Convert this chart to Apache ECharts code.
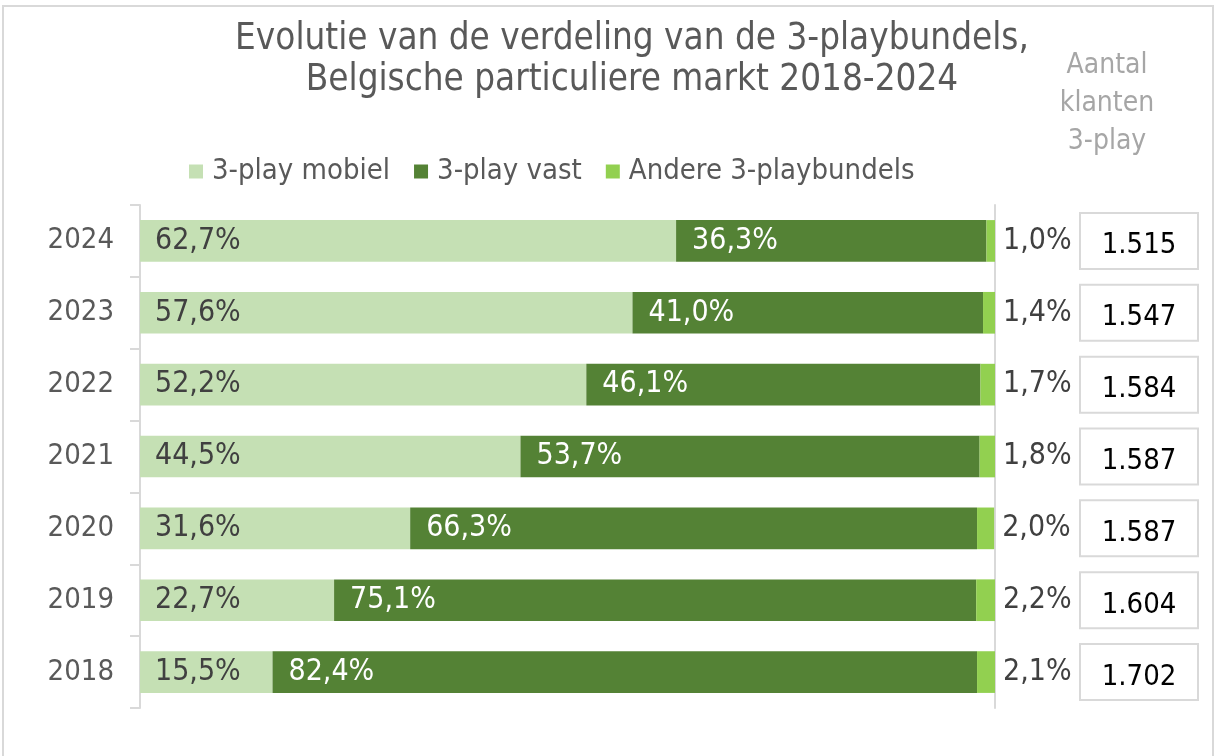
<!DOCTYPE html>
<html><head><meta charset="utf-8">
<script src="https://cdn.jsdelivr.net/npm/echarts@6/dist/echarts.min.js"></script>
<style>html,body{margin:0;padding:0;background:#fff}#c{width:1216px;height:756px}</style>
</head><body><div id="c"></div>
<script>
var years = ['2018','2019','2020','2021','2022','2023','2024'];
var mobiel = [15.5, 22.7, 31.6, 44.5, 52.2, 57.6, 62.7];
var vast = [82.4, 75.1, 66.3, 53.7, 46.1, 41.0, 36.3];
var andere = [2.1, 2.2, 2.0, 1.8, 1.7, 1.4, 1.0];
var klanten = [1702, 1604, 1587, 1587, 1584, 1547, 1515];
var seriesNames = ['3-play mobiel', '3-play vast', 'Andere 3-playbundels'];

var FONT = 'DejaVu Sans Condensed';
function pct(v){ return v.toFixed(1).replace('.', ',') + '%'; }
function thousands(v){ return String(v).replace(/\B(?=(\d{3})+(?!\d))/g, '.'); }

var chart = echarts.init(document.getElementById('c'));
chart.setOption({
  animation: false,
  textStyle: { fontFamily: FONT },
  graphic: [{ type: 'rect', shape: { x: 3, y: 6, width: 1210, height: 760 }, style: { fill: 'none', stroke: '#d9d9d9', lineWidth: 2 }, silent: true }],
  title: [
    { text: 'Evolutie van de verdeling van de 3-playbundels,\nBelgische particuliere markt 2018-2024', left: 627, top: 14, textAlign: 'center',
      textStyle: { fontFamily: FONT, fontSize: 36.5, fontWeight: 'normal', color: '#595959', lineHeight: 41 } },
    { text: 'Aantal\nklanten\n3-play', left: 1102, top: 42, textAlign: 'center',
      textStyle: { fontFamily: FONT, fontSize: 28, fontWeight: 'normal', color: '#a6a6a6', lineHeight: 38 } }
  ],
  legend: {
    data: seriesNames, left: 184, top: 152, itemWidth: 14, itemHeight: 14, itemGap: 24,
    icon: 'rect',
    textStyle: { fontFamily: FONT, fontSize: 29, color: '#595959', padding: [0, 0, 0, 4] }
  },
  grid: { left: 140, right: 221, top: 205, bottom: 48 },
  xAxis: { type: 'value', min: 0, max: 100, show: false },
  yAxis: [
    { type: 'category', data: years, position: 'left',
      axisLine: { show: true, lineStyle: { color: '#d9d9d9', width: 2 } },
      axisTick: { show: true, length: 10, lineStyle: { color: '#d9d9d9', width: 2 } },
      axisLabel: { fontFamily: FONT, fontSize: 29, color: '#595959', margin: 26 } },
    { type: 'category', data: years, position: 'right',
      axisLine: { show: true, lineStyle: { color: '#d9d9d9', width: 2 } },
      axisTick: { show: false },
      axisLabel: { margin: 86, formatter: function(v, i){ return '{b|' + thousands(klanten[i]) + '}'; },
        rich: { b: { fontFamily: FONT, fontSize: 29, color: '#000', width: 116, height: 44, align: 'center',
          borderColor: '#d9d9d9', borderWidth: 2, backgroundColor: '#fff', padding: [10, 0, 0, 0] } } } }
  ],
  series: [
    { name: seriesNames[0], type: 'bar', stack: 't', data: mobiel, barWidth: '58%', itemStyle: { color: '#c5e0b4' },
      label: { show: true, position: 'insideLeft', distance: 15, fontSize: 30, fontFamily: FONT, color: '#404040', formatter: function(p){ return pct(p.value); } } },
    { name: seriesNames[1], type: 'bar', stack: 't', data: vast, itemStyle: { color: '#548235' },
      label: { show: true, position: 'insideLeft', distance: 16, fontSize: 30, fontFamily: FONT, color: '#ffffff', formatter: function(p){ return pct(p.value); } } },
    { name: seriesNames[2], type: 'bar', stack: 't', data: andere, itemStyle: { color: '#92d050' },
      label: { show: true, position: 'right', distance: 8, fontSize: 30, fontFamily: FONT, color: '#404040', formatter: function(p){ return pct(p.value); } } }
  ]
});
</script></body></html>
